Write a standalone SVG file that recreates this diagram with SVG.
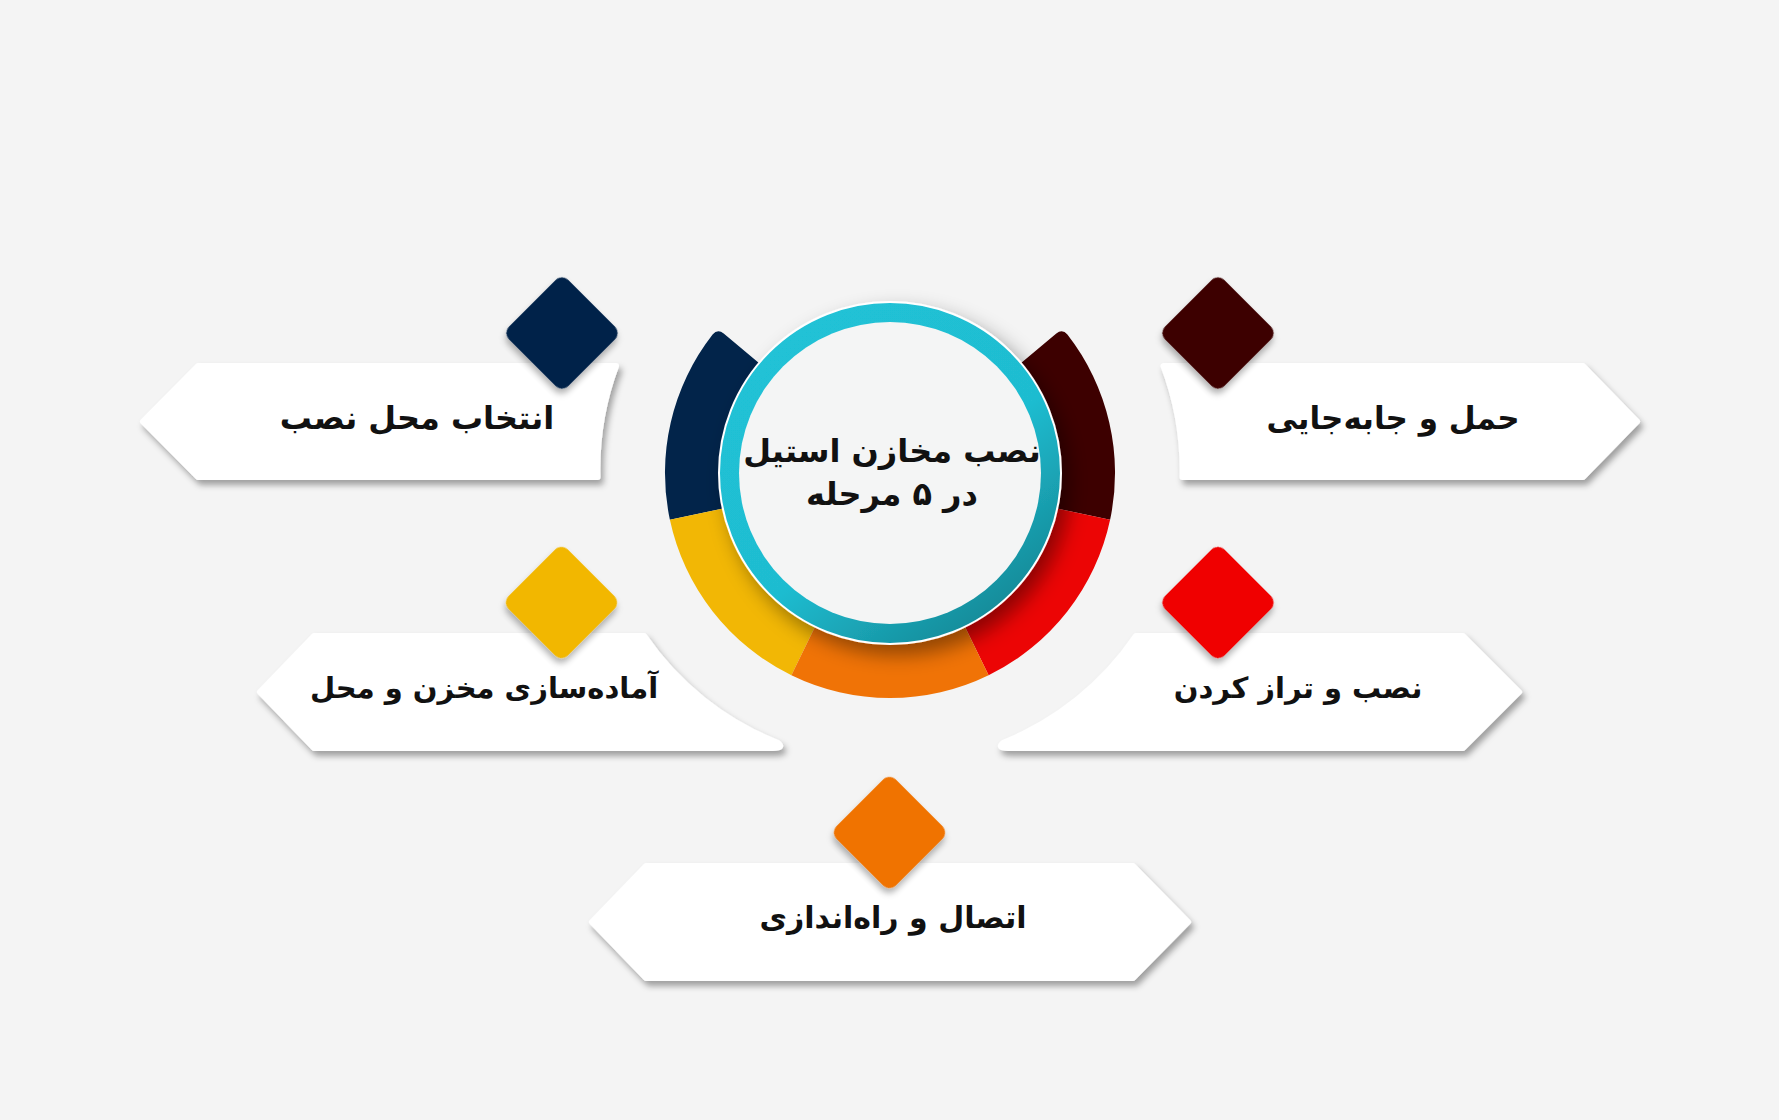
<svg xmlns="http://www.w3.org/2000/svg" width="1779" height="1120" viewBox="0 0 1779 1120">
<defs>
<style>
.box{fill:#ffffff;stroke:#ffffff;stroke-width:6;stroke-linejoin:round;filter:url(#boxShadow)}
.dia{filter:url(#diaShadow)}
.lbl{font-family:"DejaVu Sans","Noto Sans",sans-serif;font-weight:bold;font-size:32px;fill:#111111;text-anchor:middle;direction:rtl}
.ctr{font-family:"DejaVu Sans","Noto Sans",sans-serif;font-weight:bold;font-size:32px;fill:#111111;text-anchor:middle;direction:rtl}
</style>
<filter id="boxShadow" x="-10%" y="-20%" width="120%" height="150%">
<feDropShadow dx="3" dy="5" stdDeviation="3" flood-color="#000" flood-opacity="0.35"/>
</filter>
<filter id="diaShadow" x="-30%" y="-30%" width="160%" height="160%">
<feDropShadow dx="3" dy="4" stdDeviation="3" flood-color="#000" flood-opacity="0.3"/>
</filter>
<filter id="circShadow" x="-30%" y="-30%" width="160%" height="160%">
<feDropShadow dx="8" dy="10" stdDeviation="10" flood-color="#000" flood-opacity="0.4"/>
</filter>
<linearGradient id="cyanGrad" x1="0.2" y1="0.1" x2="0.85" y2="0.95">
<stop offset="0" stop-color="#20C2D6"/>
<stop offset="0.55" stop-color="#1FBCD0"/>
<stop offset="1" stop-color="#148592"/>
</linearGradient>
<rect id="dshape" x="-42" y="-42" width="84" height="84" rx="9" ry="9"/>
</defs>
<rect width="1779" height="1120" fill="#F4F4F4"/>

<g id="connectors"></g>

<g id="node-center">
<path d="M 723.7 333.5 Q 717.6 328.4 712.6 334.6 A 225 225 0 0 0 669.9 519.8 L 733.5 506.3 A 160 160 0 0 1 767.4 370.2 Z" fill="#02244A"/>
<path d="M 1056.3 333.5 Q 1062.4 328.4 1067.4 334.6 A 225 225 0 0 1 1110.1 519.8 L 1046.5 506.3 A 160 160 0 0 0 1012.6 370.2 Z" fill="#3D0000"/>
<path d="M 669.9 519.8 A 225 225 0 0 0 791.4 675.2 L 819.9 616.8 A 160 160 0 0 1 733.5 506.3 Z" fill="#F2B705"/>
<path d="M 1110.1 519.8 A 225 225 0 0 1 988.6 675.2 L 960.1 616.8 A 160 160 0 0 0 1046.5 506.3 Z" fill="#EC0505"/>
<path d="M 791.4 675.2 A 225 225 0 0 0 988.6 675.2 L 960.1 616.8 A 160 160 0 0 1 819.9 616.8 Z" fill="#F07306"/>
<circle cx="890" cy="473" r="171" fill="url(#cyanGrad)" stroke="#ffffff" stroke-width="2" filter="url(#circShadow)"/>
<circle cx="890" cy="473" r="151" fill="#F4F5F5"/>
<text class="ctr" x="892" y="462">نصب مخازن استیل</text>
<text class="ctr" x="892" y="505">در ۵ مرحله</text>
</g>

<g id="node-1">
<path class="box" d="M 198 366 L 616 366 A 293 293 0 0 0 597.5 477 L 198 477 L 143 421.5 Z"/>
<use href="#dshape" class="dia" fill="#02244A" transform="translate(562 333) rotate(45)"/>
<text class="lbl" x="417" y="429">انتخاب محل نصب</text>
</g>

<g id="node-2">
<path class="box" d="M 1163.5 366 L 1583 366 L 1637 421.5 L 1583 477 L 1182.5 477 A 293 293 0 0 0 1163.5 366 Z"/>
<use href="#dshape" class="dia" fill="#3D0000" transform="translate(1218 333) rotate(45)"/>
<text class="lbl" x="1393" y="429" style="font-size:31px">حمل و جابه&#x200C;جایی</text>
</g>

<g id="node-3">
<path class="box" d="M 314 636 L 644 636 A 293 293 0 0 0 778 743 Q 784 748 773 748 L 314 748 L 260 692 Z"/>
<use href="#dshape" class="dia" fill="#F2B705" transform="translate(561.5 602.5) rotate(45)"/>
<text class="lbl" x="484" y="698" style="font-size:29px">آماده&#x200C;سازی مخزن و محل</text>
</g>

<g id="node-4">
<path class="box" d="M 1136 636 L 1463 636 L 1519 692 L 1463 748 L 1008 748 Q 997 748 1003 743 A 293 293 0 0 0 1136 636 Z"/>
<use href="#dshape" class="dia" fill="#F00505" transform="translate(1218 602.5) rotate(45)"/>
<text class="lbl" x="1298" y="698" style="font-size:29px">نصب و تراز کردن</text>
</g>

<g id="node-5">
<path class="box" d="M 646 866 L 1133 866 L 1188 922 L 1133 978 L 646 978 L 592 922 Z"/>
<use href="#dshape" class="dia" fill="#F07306" transform="translate(889.5 832.5) rotate(45)"/>
<text class="lbl" x="893" y="928" style="font-size:30px">اتصال و راه&#x200C;اندازی</text>
</g>
</svg>
